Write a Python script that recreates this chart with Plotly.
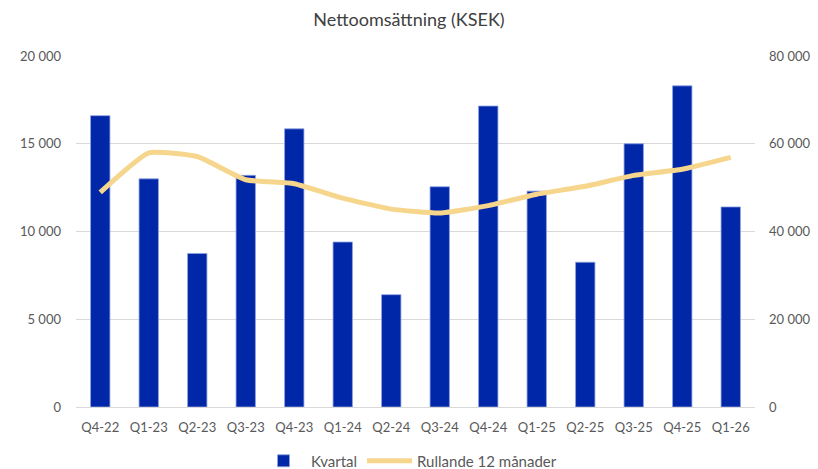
import plotly.graph_objects as go

quarters = ["Q4-22", "Q1-23", "Q2-23", "Q3-23", "Q4-23", "Q1-24", "Q2-24",
            "Q3-24", "Q4-24", "Q1-25", "Q2-25", "Q3-25", "Q4-25", "Q1-26"]
kvartal = [16600, 13000, 8750, 13200, 15850, 9400, 6400,
           12550, 17150, 12300, 8250, 15000, 18300, 11400]
rullande = [48900, 57900, 57100, 51800, 50900, 47600, 45100,
            44200, 45900, 48500, 50300, 52800, 54200, 56900]

font_family = "Lato, 'Open Sans', sans-serif"
grey = "#595959"

fig = go.Figure()
fig.add_trace(go.Bar(
    x=quarters, y=kvartal, name="Kvartal",
    marker=dict(color="#0027A8", line=dict(color="#8FA3E0", width=0.8)),
    width=0.4, yaxis="y",
))
fig.add_trace(go.Scatter(
    x=quarters, y=rullande, name="Rullande 12 månader",
    mode="lines", line=dict(color="#F5D68C", width=5, shape="spline", smoothing=0.45),
    yaxis="y2",
))

fig.update_layout(
    width=818, height=469,
    margin=dict(l=76, r=63, t=56, b=62, autoexpand=False),
    paper_bgcolor="white", plot_bgcolor="white",
    separators=", ",
    font=dict(family=font_family, color=grey, size=13),
    title=dict(text="Nettoomsättning (KSEK)", x=0.5, xanchor="center",
               y=0.957, yanchor="middle", yref="container",
               font=dict(size=18, color="#404040", family=font_family)),
    xaxis=dict(showgrid=False, showline=True, linecolor="#D9D9D9", linewidth=1,
               tickfont=dict(size=13, color=grey), ticks="", automargin=False,
               ticklabelstandoff=8),
    yaxis=dict(range=[0, 20000], tickvals=[0, 5000, 10000, 15000, 20000],
               tickformat=",d", showgrid=True, gridcolor="#D9D9D9", gridwidth=1,
               zeroline=False, showline=False, ticks="", ticklabelstandoff=14,
               automargin=False, tickfont=dict(size=13, color=grey)),
    yaxis2=dict(range=[0, 80000], tickvals=[0, 20000, 40000, 60000, 80000],
                tickformat=",d", overlaying="y", side="right", showgrid=False,
                zeroline=False, showline=False, ticks="", ticklabelstandoff=13,
                automargin=False, tickfont=dict(size=13, color=grey)),
    legend=dict(orientation="h", x=0.5, xanchor="center", xref="container",
                y=0.017, yanchor="middle", yref="container",
                font=dict(size=15, color=grey), traceorder="normal",
                itemwidth=45),
    bargap=0.6,
)

fig.write_html("out.html", config={"displayModeBar": False},
               post_script="document.body.style.margin='0';document.body.style.padding='0';")
